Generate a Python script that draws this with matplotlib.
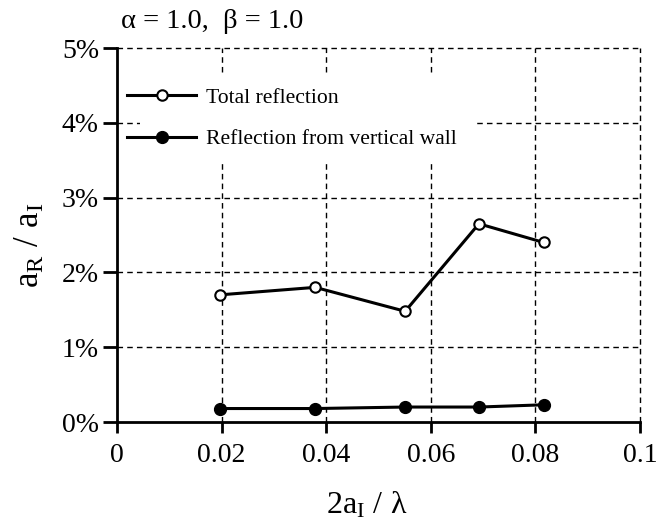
import matplotlib
matplotlib.use("Agg")
import matplotlib.pyplot as plt
from matplotlib.patches import Rectangle
from matplotlib.ticker import FuncFormatter

plt.rcParams['font.family'] = ['Liberation Serif', 'DejaVu Serif']
plt.rcParams['mathtext.fontset'] = 'custom'
plt.rcParams['mathtext.rm'] = 'Liberation Serif'
plt.rcParams['mathtext.it'] = 'Liberation Serif'

# Data
x_total = [0.0197, 0.0379, 0.0551, 0.0692, 0.0816]
y_total = [1.70, 1.80, 1.48, 2.65, 2.40]
x_wall = [0.0197, 0.0379, 0.0551, 0.0692, 0.0816]
y_wall = [0.18, 0.18, 0.20, 0.20, 0.23]
xticks = [0, 0.02, 0.04, 0.06, 0.08, 0.1]
xticklabels = ['0', '0.02', '0.04', '0.06', '0.08', '0.1']
yticks = [0, 1, 2, 3, 4, 5]
title = 'α = 1.0,  β = 1.0'
labels = ['Total reflection', 'Reflection from vertical wall']

fig = plt.figure(figsize=(6.65, 5.29), dpi=100)
ax = fig.add_axes([117/665, 1-422/529, (640-117)/665, (422-48)/529])

ax.set_xlim(0, 0.1)
ax.set_ylim(0, 5)
ax.set_xticks(xticks)
ax.set_xticklabels(xticklabels)
ax.set_yticks(yticks)
ax.yaxis.set_major_formatter(FuncFormatter(lambda v, p: f'{int(round(v))}%'))

# grid (dashed), skipping zero lines
for xv in xticks[1:]:
    ax.axvline(xv, color='black', lw=1.0, ls=(0, (4, 3)), zorder=0.5, clip_on=False)
for yv in yticks[1:]:
    ax.axhline(yv, color='black', lw=1.0, ls=(0, (4, 3)), zorder=0.5, clip_on=False)

for s in ['top', 'right']:
    ax.spines[s].set_visible(False)
for s in ['left', 'bottom']:
    ax.spines[s].set_linewidth(2.0)

ax.tick_params(axis='x', direction='out', length=8, width=2.0, labelsize=20, pad=7)
ax.tick_params(axis='y', direction='out', length=10, width=2.0, labelsize=20, pad=3)

# white background behind legend
ax.add_patch(Rectangle((0.044, 0.70), 0.641, 0.225, transform=ax.transAxes,
                       facecolor='white', edgecolor='none', zorder=1))

l1, = ax.plot(x_total, y_total, color='black', lw=2.2, marker='o', markersize=7.5,
              markerfacecolor='white', markeredgecolor='black', markeredgewidth=1.5,
              zorder=3, clip_on=False)
l2, = ax.plot(x_wall, y_wall, color='black', lw=2.2, marker='o', markersize=8.5,
              markerfacecolor='black', markeredgecolor='black', zorder=3, clip_on=False)

leg = ax.legend([l1, l2], labels, loc='upper left', bbox_to_anchor=(0.011, 0.906),
                frameon=False, fontsize=15.6, handlelength=3.2, handletextpad=0.45,
                labelspacing=1.0, borderpad=0.2, borderaxespad=0)

fig.text(367/665, 1-505/529, r'$\mathrm{2a_I\ /\ \lambda}$', fontsize=23,
         ha='center', va='center')
fig.text(30/665, 1-245/529, r'$\mathrm{a_R\ /\ a_I}$', fontsize=25,
         ha='center', va='center', rotation=90)
fig.text(212/665, 1-22/529, title, fontsize=20.5, ha='center', va='center')

fig.savefig('out.png', dpi=100)
